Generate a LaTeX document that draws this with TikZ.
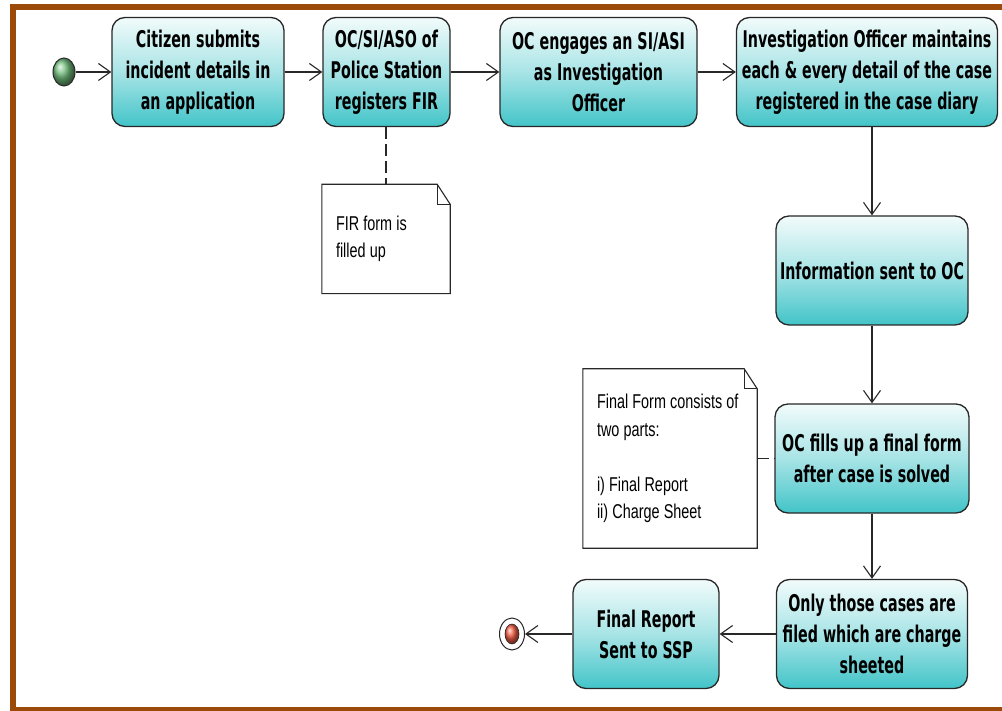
\documentclass[tikz,border=0pt]{standalone}
\usepackage{fontspec}
\usetikzlibrary{arrows.meta,calc,shapes.geometric}
\newfontfamily\boxfont[FakeStretch=0.62]{DejaVu Sans}
\newfontfamily\notefont[FakeStretch=0.72]{Liberation Sans}
\definecolor{framebrown}{RGB}{156,74,10}
\definecolor{tealtop}{RGB}{242,251,251}
\definecolor{tealmid}{RGB}{168,228,230}
\definecolor{tealbot}{RGB}{66,196,200}
\definecolor{edgegray}{RGB}{40,40,40}
\tikzset{
  activity/.style={draw=edgegray, line width=1.3pt, rounded corners=13pt,
    top color=tealtop, bottom color=tealbot, middle color=tealmid,
    minimum height=109pt, align=center, inner sep=2pt,
    font=\boxfont\bfseries\fontsize{23}{31}\selectfont,
    execute at begin node={\spaceskip=5pt\relax}},
  notebox/.style={draw=none, align=left, inner xsep=14pt, inner ysep=0pt,
    font=\notefont\fontsize{20}{27.5}\selectfont,
    execute at begin node={\spaceskip=4.2pt\relax}},
  flow/.style={draw=edgegray, line width=1.2pt,
    -{Straight Barb[length=12pt,width=17pt,line width=1.1pt]}},
  anchorline/.style={draw=edgegray, line width=1.2pt, dash pattern=on 12pt off 5pt},
  noteline/.style={draw=edgegray, line width=1.1pt},
}
\begin{document}
\begin{tikzpicture}[x=1pt,y=-1pt]
  \useasboundingbox (0,0) rectangle (1002,711);
  \fill[white] (0,0) rectangle (1002,711);
  % page frame
  \fill[framebrown] (10,4) rectangle (1002,10);
  \fill[framebrown] (10,4) rectangle (16,711);
  \fill[framebrown] (10,707) rectangle (1002,711);

  % activities
  \node[activity, minimum width=172pt] (a1) at (198,72)
    {Citizen submits\\incident details in\\an application};
  \node[activity, minimum width=127pt] (a2) at (386.5,72)
    {OC/SI/ASO of\\Police Station\\registers FIR};
  \node[activity, minimum width=197pt] (a3) at (598.5,72)
    {OC engages an SI/ASI\\as Investigation\\Officer};
  \node[activity, minimum width=261pt] (a4) at (867,72)
    {Investigation Officer maintains\\each \& every detail of the case\\registered in the case diary};
  \node[activity, minimum width=192pt] (a5) at (872,270.5)
    {Information sent to OC};
  \node[activity, minimum width=194pt] (a6) at (872,458.5)
    {OC fills up a final form\\after case is solved};
  \node[activity, minimum width=191pt] (a7) at (872,634)
    {Only those cases are\\filed which are charge\\sheeted};
  \node[activity, minimum width=146pt] (a8) at (646,634)
    {Final Report\\Sent to SSP};

  % initial and final nodes
  \node[ellipse, draw=edgegray, line width=1pt, minimum width=22pt, minimum height=28pt,
    inner sep=0pt, shading=ball, ball color={rgb,255:red,115;green,190;blue,125}] (start) at (64,72) {};
  \node[ellipse, draw=edgegray, line width=1pt, minimum width=25pt, minimum height=32pt,
    inner sep=0pt, fill=white] (stop) at (512,634) {};
  \node[ellipse, draw=edgegray, line width=0.6pt, minimum width=14pt, minimum height=20pt,
    inner sep=0pt, shading=ball, ball color={rgb,255:red,245;green,95;blue,70}] (stopdot) at (stop.center) {};

  % notes with a folded corner
  \node[notebox, text width=100pt, minimum height=109pt] (n1) at (386,239)
    {FIR form is\\filled up};
  \node[notebox, text width=146pt, minimum height=179pt] (n2) at (670,458.5)
    {Final Form consists of\\two parts:\\[27.5pt]i) Final Report\\ii) Charge Sheet};
  \foreach \n in {n1,n2}{
    \draw[noteline] (\n.north west) -- ($(\n.north east)+(-13,0)$) -- ($(\n.north east)+(0,20)$)
      -- (\n.south east) -- (\n.south west) -- cycle;
    \draw[noteline] ($(\n.north east)+(-13,0)$) -- ($(\n.north east)+(-13,20)$)
      -- ($(\n.north east)+(0,20)$);
  }

  % control flow
  \draw[flow] (start) -- (a1);
  \draw[flow] (a1) -- (a2);
  \draw[flow] (a2) -- (a3);
  \draw[flow] (a3) -- (a4);
  \draw[flow] (a4.south -| a5.north) -- (a5);
  \draw[flow] (a5) -- (a6);
  \draw[flow] (a6) -- (a7);
  \draw[flow] (a7) -- (a8);
  \draw[flow] (a8) -- (stop);

  % note anchors
  \draw[anchorline] (a2.south -| n1.north) -- (n1.north);
  \draw[anchorline] (n2.east) -- (a6.west);
\end{tikzpicture}
\end{document}
